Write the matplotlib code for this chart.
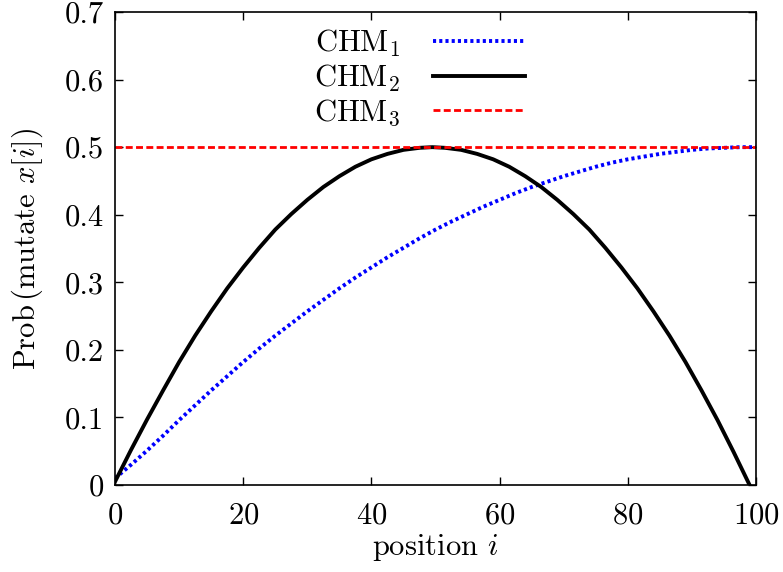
import matplotlib
matplotlib.use('Agg')
import matplotlib.pyplot as plt

plt.rcParams['font.family'] = 'serif'
plt.rcParams['font.serif'] = ['cmr10']
plt.rcParams['mathtext.fontset'] = 'cm'
plt.rcParams['axes.formatter.use_mathtext'] = True

# values
positions1 = [0, 2.5, 5, 7.5, 10, 12.5, 15, 17.5, 20, 22.5, 25, 27.5, 30, 32.5, 35, 37.5, 40,
              42.5, 45, 47.5, 50, 52.5, 55, 57.5, 60, 62.5, 65, 67.5, 70, 72.5, 75, 77.5, 80,
              82.5, 85, 87.5, 90, 92.5, 95, 97.5, 100]
chm1 = [0.01, 0.03, 0.051, 0.073, 0.096, 0.118, 0.140, 0.161, 0.182, 0.202, 0.221,
        0.239, 0.257, 0.274, 0.291, 0.307, 0.322, 0.337, 0.351, 0.365, 0.378,
        0.390, 0.401, 0.412, 0.422, 0.432, 0.441, 0.449, 0.457, 0.464, 0.471,
        0.477, 0.482, 0.486, 0.490, 0.493, 0.496, 0.498, 0.499, 0.5, 0.5]

positions2 = [0, 2.5, 5, 7.5, 10, 12.5, 15, 17.5, 20, 22.5, 25, 27.5, 30, 32.5, 35, 37.5, 40,
              42.5, 45, 47.5, 49.5, 51.5, 54, 56.5, 59, 61.5, 64, 66.5, 69, 71.5, 74, 76.5,
              79, 81.5, 84, 86.5, 89, 91.5, 94, 96.5, 99]
chm2 = [0.005, 0.052, 0.097, 0.140, 0.182, 0.221, 0.257, 0.291, 0.322, 0.351, 0.378,
        0.401, 0.422, 0.441, 0.457, 0.471, 0.482, 0.490, 0.496, 0.499, 0.5,
        0.499, 0.496, 0.490, 0.482, 0.471, 0.457, 0.441, 0.422, 0.401, 0.378,
        0.351, 0.322, 0.291, 0.257, 0.221, 0.182, 0.140, 0.096, 0.049, 0.0]

positions3 = [0, 100]
chm3 = [0.5, 0.5]

xticks = [0, 20, 40, 60, 80, 100]
yticks = [0, 0.1, 0.2, 0.3, 0.4, 0.5, 0.6, 0.7]
ytick_labels = ['0', '0.1', '0.2', '0.3', '0.4', '0.5', '0.6', '0.7']

fig = plt.figure(figsize=(7.83, 5.72), dpi=100)
ax = fig.add_axes([0.1469, 0.1521, 0.8186, 0.8269])

ax.plot(positions1, chm1, color='blue', lw=2.8, dashes=(0.8, 0.8), label=r'CHM$_1$')
ax.plot(positions2, chm2, color='black', lw=2.8, label=r'CHM$_2$')
ax.plot(positions3, chm3, color='red', lw=2.0, dashes=(2.5, 1.2), label=r'CHM$_3$')

ax.set_xlim(0, 100)
ax.set_ylim(0, 0.7)
ax.set_xticks(xticks)
ax.set_yticks(yticks)
ax.set_yticklabels(ytick_labels)
ax.tick_params(direction='in', length=6, width=1, top=True, right=True, labelsize=22)
ax.tick_params(axis='x', pad=12)
ax.tick_params(axis='y', pad=8)
for s in ax.spines.values():
    s.set_linewidth(1.2)

ax.set_xlabel(r'position $i$', fontsize=22, labelpad=2)
ax.set_ylabel(r'Prob$\,$(mutate $x[i]$)', fontsize=22, labelpad=14)

ax.legend(loc='upper center', bbox_to_anchor=(0.475, 1.025), frameon=False, markerfirst=False,
          fontsize=22, handlelength=3.0, labelspacing=0.12, handletextpad=1.1)

fig.savefig('out.png', dpi=100)
